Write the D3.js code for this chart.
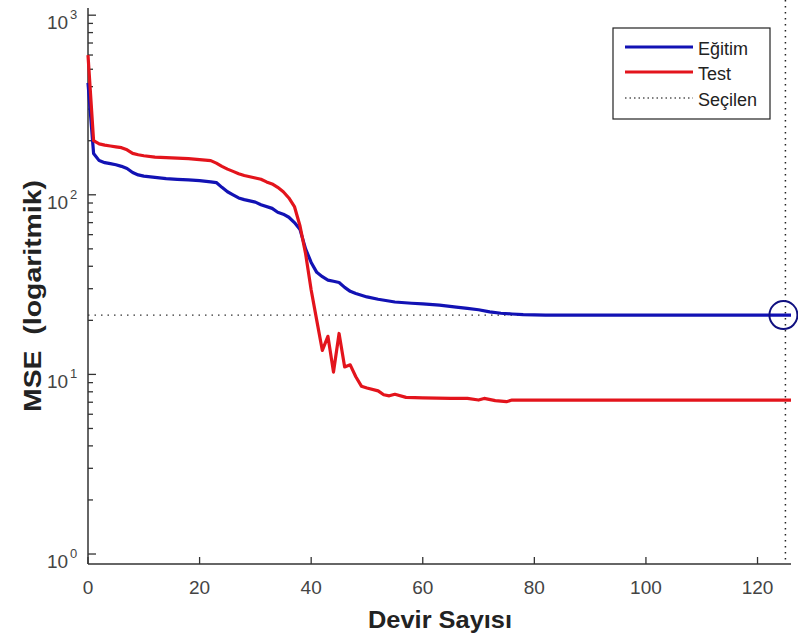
<!DOCTYPE html>
<html>
<head>
<meta charset="utf-8">
<script src="https://cdn.jsdelivr.net/npm/d3@7"></script>
<style>
  html, body { margin: 0; padding: 0; background: #fff; }
  svg { display: block; font-family: "Liberation Sans", Arial, sans-serif; }
</style>
</head>
<body>
<svg id="chart" width="798" height="642"></svg>
<script>
// ---- data ----
const trainEpochs = [0,1,2,3,4,5,6,7,8,9,10,12,14,16,18,20,22,23,24,25,26,27,28,30,31,33,34,35,36,37,38,39,40,41,42,43,44,45,46,47,48,50,52,55,58,60,63,66,68,70,72,74,76,78,82,90,126];
const trainMSE    = [420,170,155,151,149,147,144,140,133,129,127,125,123,122,121,120,118,117,110,104,100,96,94,91,88,84,80,78,75,70,64,50,42,37,35,33.5,33,32.5,30.5,29,28.2,27,26.2,25.3,24.9,24.7,24.3,23.7,23.3,22.9,22.3,21.9,21.7,21.5,21.4,21.4,21.4];

const testEpochs  = [0,1,2,3,4,5,6,7,8,9,10,12,14,16,18,20,22,23,24,25,26,27,28,30,31,32,33,34,35,36,37,38,39,40,41,42,43,44,45,46,47,48,49,50,52,53,54,55,57,60,65,68,70,71,73,75,76,80,126];
const testMSE     = [600,200,192,189,187,185,183,178,170,167,165,162,161,160,159,157,155,150,144,139,135,131,128,124,122,118,115,110,104,96,86,67,47,29.5,20,13.6,16.3,10.3,16.9,11.0,11.3,9.7,8.6,8.4,8.1,7.7,7.6,7.75,7.45,7.4,7.35,7.35,7.2,7.35,7.15,7.05,7.2,7.2,7.2];

const bestEpoch = 125;
const bestMSE = 21.4;

const xTicks = [0,20,40,60,80,100,120];
const yDecades = [0,1,2,3];
const seriesNames = ["Eğitim", "Test", "Seçilen"];
const xLabel = "Devir Sayısı";
const yLabel = "MSE  (logaritmik)";

// ---- scales ----
const svg = d3.select("#chart");
const x = d3.scaleLinear().domain([0, 126]).range([88, 791]);
const y = d3.scaleLog().domain([Math.pow(10, -0.0556), Math.pow(10, 3.04)]).range([564, 8]);

const axisColor = "#333";
const blue = "#1212b4";
const red = "#e3141c";

// ---- axes ----
svg.append("line").attr("x1", 88).attr("x2", 88).attr("y1", 8).attr("y2", 564)
  .attr("stroke", axisColor).attr("stroke-width", 1.5);
svg.append("line").attr("x1", 88).attr("x2", 791).attr("y1", 564).attr("y2", 564)
  .attr("stroke", axisColor).attr("stroke-width", 1.5);

// y ticks (major + minor), inward
const yTickVals = [];
yDecades.forEach(d => {
  yTickVals.push({v: Math.pow(10, d), major: true});
  if (d < 3) for (let k = 2; k <= 9; k++) yTickVals.push({v: k * Math.pow(10, d), major: false});
});
svg.append("g").selectAll("line").data(yTickVals).join("line")
  .attr("x1", 88).attr("x2", d => d.major ? 96 : 93)
  .attr("y1", d => y(d.v)).attr("y2", d => y(d.v))
  .attr("stroke", axisColor).attr("stroke-width", 1.3);

// y tick labels: 10^n
const yl = svg.append("g").selectAll("g").data(yDecades).join("g");
yl.append("text").attr("x", 47).attr("y", d => y(Math.pow(10, d)) + 14)
  .attr("font-size", 19).attr("fill", "#444").text("10");
yl.append("text").attr("x", 70).attr("y", d => y(Math.pow(10, d)) + 4)
  .attr("font-size", 13).attr("fill", "#444").text(d => d);

// x ticks inward
svg.append("g").selectAll("line").data(xTicks).join("line")
  .attr("x1", d => x(d)).attr("x2", d => x(d)).attr("y1", 564).attr("y2", 557)
  .attr("stroke", axisColor).attr("stroke-width", 1.3);
svg.append("g").selectAll("text").data(xTicks).join("text")
  .attr("x", d => x(d)).attr("y", 594).attr("text-anchor", "middle")
  .attr("font-size", 19).attr("fill", "#444").text(d => d);

// axis labels
svg.append("text").attr("x", 440).attr("y", 628).attr("text-anchor", "middle")
  .attr("font-size", 24).attr("font-weight", "bold").attr("fill", "#222")
  .attr("textLength", 144).attr("lengthAdjust", "spacingAndGlyphs").text(xLabel);
svg.append("text").attr("transform", "translate(41,296) rotate(-90)").attr("text-anchor", "middle")
  .attr("font-size", 24).attr("font-weight", "bold").attr("fill", "#222")
  .style("white-space", "pre").attr("xml:space", "preserve")
  .attr("textLength", 232).attr("lengthAdjust", "spacingAndGlyphs").text(yLabel);

// ---- selected reference lines ----
svg.append("line").attr("x1", 88).attr("x2", 791).attr("y1", y(bestMSE)).attr("y2", y(bestMSE))
  .attr("stroke", "#333").attr("stroke-width", 1.3).attr("stroke-dasharray", "1.5,5");
svg.append("line").attr("x1", x(bestEpoch)).attr("x2", x(bestEpoch)).attr("y1", 0).attr("y2", 564)
  .attr("stroke", "#222").attr("stroke-width", 1.5).attr("stroke-dasharray", "1.5,4.5");

// ---- curves ----
const line = d3.line().x(d => x(d[0])).y(d => y(d[1]));
svg.append("path").datum(trainEpochs.map((e, i) => [e, trainMSE[i]]))
  .attr("d", line).attr("fill", "none").attr("stroke", blue).attr("stroke-width", 3.2)
  .attr("stroke-linejoin", "round");
svg.append("path").datum(testEpochs.map((e, i) => [e, testMSE[i]]))
  .attr("d", line).attr("fill", "none").attr("stroke", red).attr("stroke-width", 3.2)
  .attr("stroke-linejoin", "round");

// best marker circle
svg.append("circle").attr("cx", x(bestEpoch) - 2).attr("cy", y(bestMSE)).attr("r", 14)
  .attr("fill", "none").attr("stroke", "#101080").attr("stroke-width", 2);

// ---- legend ----
const lg = svg.append("g");
lg.append("rect").attr("x", 613).attr("y", 28).attr("width", 157).attr("height", 91)
  .attr("fill", "#fff").attr("stroke", "#222").attr("stroke-width", 1.2);
const legendStyles = [
  {color: blue, w: 3.2, dash: null},
  {color: red, w: 3.2, dash: null},
  {color: "#555", w: 1.3, dash: "1.5,3"}
];
const ly = [47, 72, 98];
seriesNames.forEach((n, i) => {
  const l = lg.append("line").attr("x1", 625).attr("x2", 693).attr("y1", ly[i]).attr("y2", ly[i])
    .attr("stroke", legendStyles[i].color).attr("stroke-width", legendStyles[i].w);
  if (legendStyles[i].dash) l.attr("stroke-dasharray", legendStyles[i].dash);
  lg.append("text").attr("x", 698).attr("y", ly[i] + 8).attr("font-size", 18)
    .attr("fill", "#222").text(n);
});
</script>
</body>
</html>
